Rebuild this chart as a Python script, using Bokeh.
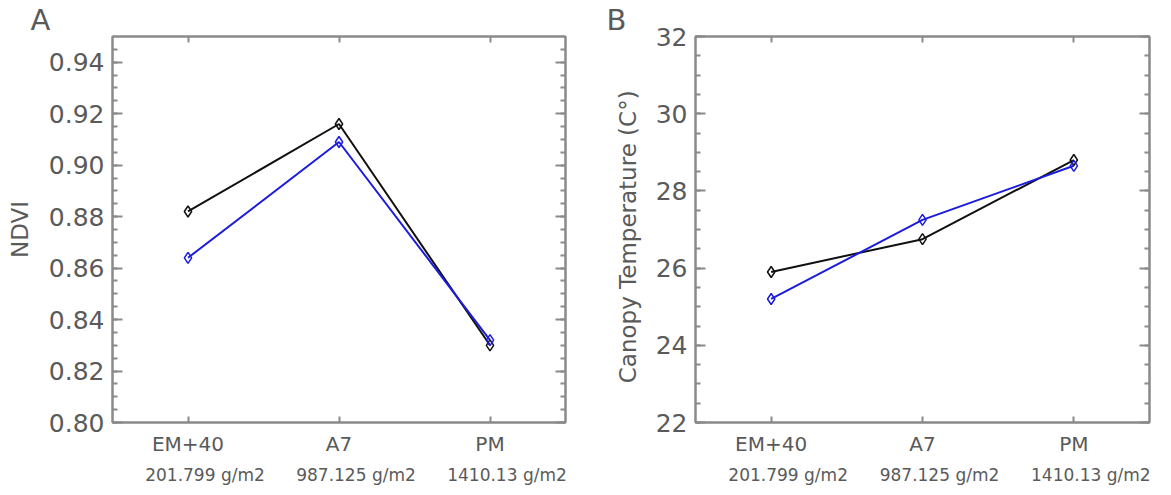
from bokeh.plotting import figure
from bokeh.layouts import row
from bokeh.models import (Range1d, LinearAxis, SingleIntervalTicker,
                          NumeralTickFormatter, FixedTicker, CustomJSTickFormatter)
from bokeh.embed import file_html
from bokeh.resources import INLINE

categories = ["EM+40", "A7", "PM"]
biomass = ["201.799 g/m2", "987.125 g/m2", "1410.13 g/m2"]
ndvi_black = [0.882, 0.916, 0.830]
ndvi_blue = [0.864, 0.909, 0.832]
temp_black = [25.9, 26.75, 28.8]
temp_blue = [25.2, 27.25, 28.65]

FONT = "DejaVu Sans"
TXT = "#5a5a5a"
FRAME = "#8a8a8a"
BLACK = "#111111"
BLUE = "#1c1cdc"


def tick_style(ax, tin, minor_in):
    ax.axis_line_color = FRAME
    ax.axis_line_width = 2
    ax.major_tick_in = tin
    ax.major_tick_out = 0
    ax.minor_tick_in = minor_in
    ax.minor_tick_out = 0
    ax.major_tick_line_color = FRAME
    ax.minor_tick_line_color = FRAME
    ax.major_tick_line_width = 2
    ax.minor_tick_line_width = 2


def make_panel(width, left, right, yrange, interval, fmt, ylabel, letter,
               yb, yl, label_standoff, letter_offset):
    frame_w = width - left - right
    n = len(categories)
    xpos = [i + 0.5 for i in range(n)]          # category centres
    shift = 17.0 / (frame_w / n)
    p = figure(width=width, height=495,
               x_range=Range1d(0, n), y_range=Range1d(*yrange),
               output_backend="svg", toolbar_location=None,
               min_border_left=left, min_border_right=right,
               min_border_top=36, min_border_bottom=73)
    p.extra_x_ranges = {"bio": Range1d(-shift, n - shift)}
    p.grid.visible = False
    p.outline_line_color = FRAME
    p.outline_line_width = 2

    p.title.text = letter
    p.title.align = "left"
    p.title.offset = letter_offset
    p.title.text_font = FONT
    p.title.text_font_size = "29px"
    p.title.text_font_style = "normal"
    p.title.text_color = TXT
    p.title.standoff = 0

    ya = p.yaxis[0]
    ya.ticker = SingleIntervalTicker(interval=interval, num_minor_ticks=4)
    if fmt:
        ya.formatter = NumeralTickFormatter(format=fmt)
    tick_style(ya, 10, 5)
    ya.major_label_text_font = FONT
    ya.major_label_text_font_size = "25px"
    ya.major_label_text_color = TXT
    ya.major_label_standoff = 8
    ya.axis_label = ylabel
    ya.axis_label_text_font = FONT
    ya.axis_label_text_font_size = "23px"
    ya.axis_label_text_font_style = "normal"
    ya.axis_label_text_color = TXT
    ya.axis_label_standoff = label_standoff

    ra = LinearAxis(ticker=SingleIntervalTicker(interval=interval, num_minor_ticks=4),
                    formatter=CustomJSTickFormatter(code="return ''"),
                    major_label_standoff=0)
    tick_style(ra, 10, 5)
    p.add_layout(ra, "right")

    xa = p.xaxis[0]
    xa.ticker = FixedTicker(ticks=xpos)
    xa.major_label_overrides = {t: c for t, c in zip(xpos, categories)}
    tick_style(xa, 6, 0)
    xa.major_label_text_font = FONT
    xa.major_label_text_font_size = "20px"
    xa.major_label_text_color = TXT
    xa.major_label_standoff = 9

    ta = LinearAxis(ticker=FixedTicker(ticks=xpos),
                    formatter=CustomJSTickFormatter(code="return ''"),
                    major_label_standoff=0)
    tick_style(ta, 6, 0)
    p.add_layout(ta, "above")

    ba = LinearAxis(x_range_name="bio", ticker=FixedTicker(ticks=xpos),
                    major_label_overrides={t: b for t, b in zip(xpos, biomass)},
                    axis_line_color=None, major_tick_line_color=None,
                    minor_tick_line_color=None, major_tick_in=0, major_tick_out=0,
                    minor_tick_in=0, minor_tick_out=0,
                    major_label_standoff=6, major_label_text_font=FONT,
                    major_label_text_font_size="17px", major_label_text_color=TXT)
    p.add_layout(ba, "below")

    p.line(xpos, yb, line_color=BLACK, line_width=2)
    p.scatter(xpos, yb, marker="diamond", size=11, fill_color=None,
              line_color=BLACK, line_width=1.5)
    p.line(xpos, yl, line_color=BLUE, line_width=2)
    p.scatter(xpos, yl, marker="diamond", size=11, fill_color=None,
              line_color=BLUE, line_width=1.5)
    return p


pa = make_panel(567, 112, 2, (0.80, 0.95), 0.02, "0.00", "NDVI", "A",
                ndvi_black, ndvi_blue, 13, -82)
pb = make_panel(604, 128, 22, (22, 32), 2, None,
                "Canopy  Temperature  (C\u00b0)", "B",
                temp_black, temp_blue, 12, -89)

layout = row(pa, pb)
open("out.html", "w").write(file_html(layout, INLINE))
